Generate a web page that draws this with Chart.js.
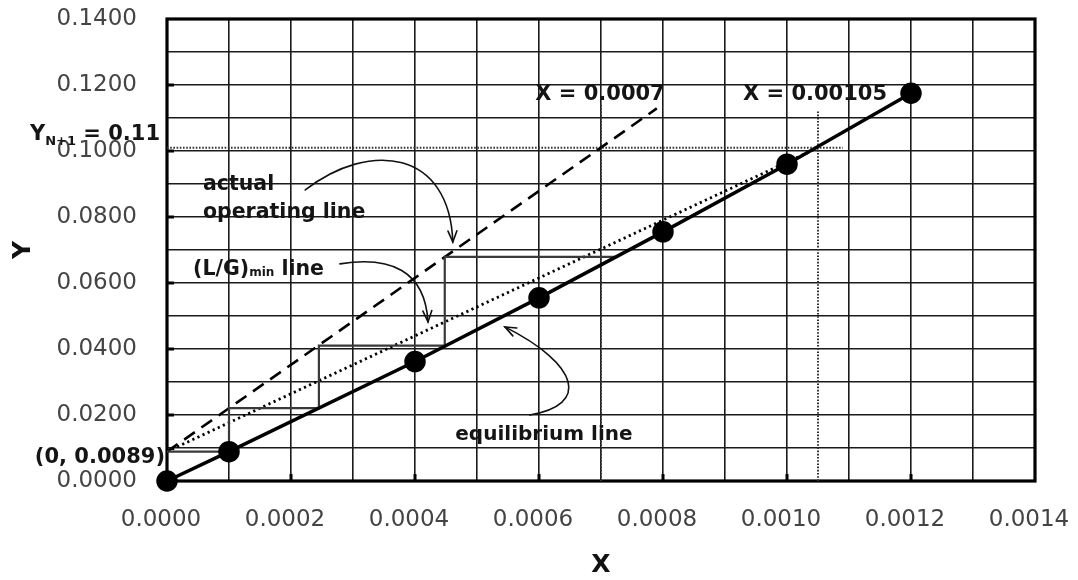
<!DOCTYPE html>
<html>
<head>
<meta charset="utf-8">
<script src="https://cdn.jsdelivr.net/npm/chart.js@4.4.1/dist/chart.umd.min.js"></script>
<style>
  html, body { margin: 0; padding: 0; background: #ffffff; }
  #wrap { width: 1078px; height: 580px; }
</style>
</head>
<body>
<div id="wrap"><canvas id="c" width="1078" height="580"></canvas></div>
<script>
// Equilibrium curve (solid line with markers)
const eqX = [0, 0.0001, 0.0004, 0.0006, 0.0008, 0.0010, 0.0012];
const eqY = [0, 0.0089, 0.0362, 0.0555, 0.0755, 0.0960, 0.1175];

// Actual operating line (dashed)
const opX = [0, 0.00079];
const opY = [0.0089, 0.1129];

// (L/G)min operating line (dotted)
const minX = [0, 0.00105];
const minY = [0.0089, 0.101];

// Stage stepping between operating and equilibrium lines
const stepX = [0, 0.0001, 0.0001, 0.000245, 0.000245, 0.000448, 0.000448, 0.000725];
const stepY = [0.0089, 0.0089, 0.0221, 0.0221, 0.0410, 0.0410, 0.0679, 0.0679];

// Guide lines: inlet gas Y, outlet liquid X values
const feedX = [0, 0.00109];
const feedY = [0.101, 0.101];
const xMaxX = [0.00105, 0.00105];
const xMaxY = [0, 0.1125];
const xActX = [0.0007, 0.0007];
const xActY = [0, 0.114];

// Axis tick labels
const xTicks = ['0.0000', '0.0002', '0.0004', '0.0006', '0.0008', '0.0010', '0.0012', '0.0014'];
const yTicks = ['0.0000', '0.0200', '0.0400', '0.0600', '0.0800', '0.1000', '0.1200', '0.1400'];

const pts = (xs, ys) => xs.map((x, i) => ({ x: x, y: ys[i] }));

const FONT = "'DejaVu Sans', 'Liberation Sans', sans-serif";

// Text annotations (anchored in data units, dx in pixels)
const notes = [
  { x: 0.000594, y: 0.1176, align: 'left', parts: [['X = 0.0007', 21, 0]] },
  { x: 0.000929, y: 0.1176, align: 'left', parts: [['X = 0.00105', 21, 0]] },
  { x: 0, y: 0.1055, dx: -7, align: 'right', parts: [['Y', 21, 0], ['N+1', 13, 5], [' = 0.11', 21, 0]] },
  { x: 0, y: 0.0076, dx: -2, align: 'right', parts: [['(0, 0.0089)', 21, 0]] },
  { x: 0.000058, y: 0.0903, align: 'left', parts: [['actual', 20.5, 0]] },
  { x: 0.000058, y: 0.0818, align: 'left', parts: [['operating line', 20.5, 0]] },
  { x: 0.000042, y: 0.0645, align: 'left', parts: [['(L/G)', 20.5, 0], ['min', 12, 1], [' line', 20.5, 0]] },
  { x: 0.000465, y: 0.0145, align: 'left', parts: [['equilibrium line', 20, 0]] }
];

// Curved pointer arrows (cubic Bézier control points in data units)
const arrows = [
  [[0.000223, 0.0882], [0.000327, 0.1033], [0.000456, 0.1003], [0.000461, 0.0724]],
  [[0.000279, 0.0658], [0.000360, 0.0682], [0.000416, 0.0639], [0.000421, 0.0482]],
  [[0.000585, 0.0200], [0.000682, 0.0230], [0.000666, 0.0352], [0.000545, 0.0467]]
];

const annotate = {
  id: 'annotate',
  beforeDatasetsDraw(chart) {
    const { ctx, chartArea: a, scales: { x, y } } = chart;
    ctx.save();
    // short inward marks at labelled ticks
    ctx.strokeStyle = '#000';
    ctx.lineWidth = 3;
    ctx.beginPath();
    for (let i = 1; i < yTicks.length - 1; i++) {
      const py = y.getPixelForValue(parseFloat(yTicks[i]));
      ctx.moveTo(a.left, py); ctx.lineTo(a.left + 7, py);
    }
    for (let i = 1; i < xTicks.length - 1; i++) {
      const px = x.getPixelForValue(parseFloat(xTicks[i]));
      ctx.moveTo(px, a.bottom); ctx.lineTo(px, a.bottom - 7);
    }
    ctx.stroke();
    // plot frame
    ctx.lineWidth = 3.2;
    ctx.strokeRect(a.left, a.top, a.right - a.left, a.bottom - a.top);
    ctx.restore();
  },
  afterDatasetsDraw(chart) {
    const { ctx, scales: { x, y } } = chart;
    const P = (p) => [x.getPixelForValue(p[0]), y.getPixelForValue(p[1])];
    ctx.save();
    // arrows
    ctx.strokeStyle = '#111';
    ctx.lineWidth = 1.6;
    ctx.lineCap = 'round';
    arrows.forEach(c => {
      const [p0, p1, p2, p3] = c.map(P);
      ctx.beginPath();
      ctx.moveTo(p0[0], p0[1]);
      ctx.bezierCurveTo(p1[0], p1[1], p2[0], p2[1], p3[0], p3[1]);
      ctx.stroke();
      const ang = Math.atan2(p3[1] - p2[1], p3[0] - p2[0]);
      const L = 12, w = 0.38;
      ctx.beginPath();
      ctx.moveTo(p3[0] - L * Math.cos(ang - w), p3[1] - L * Math.sin(ang - w));
      ctx.lineTo(p3[0], p3[1]);
      ctx.lineTo(p3[0] - L * Math.cos(ang + w), p3[1] - L * Math.sin(ang + w));
      ctx.stroke();
    });
    // labels
    ctx.fillStyle = '#151515';
    ctx.textBaseline = 'alphabetic';
    ctx.textAlign = 'left';
    notes.forEach(n => {
      const [px0, py0] = P([n.x, n.y]);
      const px = px0 + (n.dx || 0);
      const base = py0 + 7;
      let total = 0;
      n.parts.forEach(([t, s]) => { ctx.font = 'bold ' + s + 'px ' + FONT; total += ctx.measureText(t).width; });
      let cx = n.align === 'right' ? px - total : px;
      n.parts.forEach(([t, s, d]) => {
        ctx.font = 'bold ' + s + 'px ' + FONT;
        ctx.fillText(t, cx, base + d);
        cx += ctx.measureText(t).width;
      });
    });
    ctx.restore();
  }
};

const noPad = (s) => { s.paddingTop = 0; s.paddingBottom = 0; s.paddingLeft = 0; s.paddingRight = 0; };

new Chart(document.getElementById('c'), {
  type: 'scatter',
  data: {
    datasets: [
      { label: 'equilibrium line', data: pts(eqX, eqY), showLine: true, borderColor: '#000', backgroundColor: '#000',
        borderWidth: 3.5, pointRadius: 9, pointHoverRadius: 9, clip: false },
      { label: 'stages', data: pts(stepX, stepY), showLine: true, borderColor: '#3a3a3a', borderWidth: 2.2,
        pointRadius: 0 },
      { label: 'actual operating line', data: pts(opX, opY), showLine: true, borderColor: '#000', borderWidth: 2.6,
        borderDash: [13, 8], pointRadius: 0 },
      { label: '(L/G)min line', data: pts(minX, minY), showLine: true, borderColor: '#000', borderWidth: 2.8,
        borderDash: [2.2, 3.4], pointRadius: 0 },
      { label: 'Y N+1', data: pts(feedX, feedY), showLine: true, borderColor: '#333', borderWidth: 2,
        borderDash: [1.6, 1.6], pointRadius: 0 },
      { label: 'X = 0.00105', data: pts(xMaxX, xMaxY), showLine: true, borderColor: '#333', borderWidth: 2,
        borderDash: [1.6, 1.6], pointRadius: 0 },
      { label: 'X = 0.0007', data: pts(xActX, xActY), showLine: true, borderColor: '#333', borderWidth: 2,
        borderDash: [1.6, 1.6], pointRadius: 0 }
    ]
  },
  options: {
    responsive: false,
    animation: false,
    devicePixelRatio: 1,
    layout: { padding: { left: 0, top: 19, right: 43, bottom: 0 } },
    plugins: { legend: { display: false }, tooltip: { enabled: false } },
    scales: {
      x: {
        type: 'linear', min: 0, max: 0.0014,
        afterFit: (s) => { s.height = 99; noPad(s); },
        grid: { color: '#1a1a1a', lineWidth: 1.6, drawTicks: false },
        border: { display: false },
        ticks: {
          stepSize: 0.0001, autoSkip: false, maxRotation: 0, padding: 25, labelOffset: -6,
          color: '#444', font: { family: FONT, size: 23 },
          callback: (v, i) => (i % 2 === 0 ? xTicks[i / 2] : '')
        },
        title: { display: true, text: 'X', color: '#111', font: { family: FONT, size: 25, weight: 'bold' },
          padding: { top: 0, bottom: 0 } }
      },
      y: {
        type: 'linear', min: 0, max: 0.14,
        afterFit: (s) => { s.width = 167; noPad(s); },
        grid: { color: '#1a1a1a', lineWidth: 1.6, drawTicks: false },
        border: { display: false },
        ticks: {
          stepSize: 0.01, autoSkip: false, padding: 30,
          color: '#444', font: { family: FONT, size: 23 },
          callback: (v, i) => (i % 2 === 0 ? yTicks[i / 2] : '')
        },
        title: { display: true, text: 'Y', color: '#111', font: { family: FONT, size: 25, weight: 'bold' },
          padding: { top: 8, bottom: 0 } }
      }
    }
  },
  plugins: [annotate]
});
</script>
</body>
</html>
